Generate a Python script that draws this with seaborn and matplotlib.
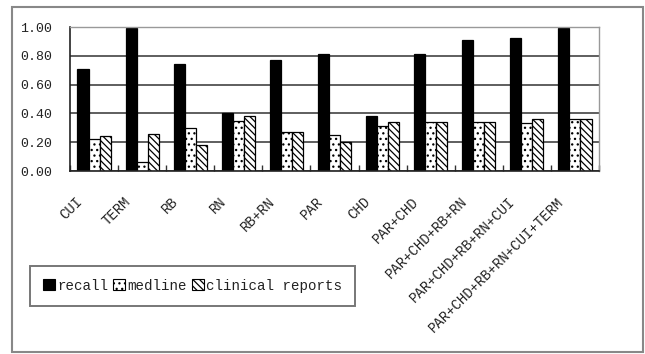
import matplotlib
matplotlib.use("Agg")
import matplotlib.pyplot as plt
import matplotlib.transforms as mtransforms
from matplotlib.patches import Rectangle, Patch
import numpy as np
import pandas as pd
import seaborn as sns

categories = ["CUI", "TERM", "RB", "RN", "RB+RN", "PAR", "CHD", "PAR+CHD",
              "PAR+CHD+RB+RN", "PAR+CHD+RB+RN+CUI", "PAR+CHD+RB+RN+CUI+TERM"]
recall = [0.71, 0.99, 0.74, 0.40, 0.77, 0.81, 0.38, 0.81, 0.91, 0.925, 0.99]
medline = [0.22, 0.065, 0.30, 0.35, 0.27, 0.25, 0.31, 0.34, 0.34, 0.335, 0.36]
clinical = [0.24, 0.26, 0.18, 0.38, 0.27, 0.20, 0.34, 0.34, 0.34, 0.36, 0.36]
series_names = ["recall", "medline", "clinical reports"]
y_ticks = [0.0, 0.2, 0.4, 0.6, 0.8, 1.0]

df = pd.DataFrame({
    "category": categories * 3,
    "value": recall + medline + clinical,
    "series": [series_names[0]] * len(categories)
              + [series_names[1]] * len(categories)
              + [series_names[2]] * len(categories),
})

sns.set_style("white")
plt.rcParams["font.family"] = ["Liberation Mono", "DejaVu Sans"]
plt.rcParams["hatch.linewidth"] = 0.9

W, H = 645, 354
fig = plt.figure(figsize=(W / 100, H / 100), dpi=100)
ax = fig.add_axes([70 / W, (H - 171) / H, (599 - 70) / W, (171 - 27) / H])

fills = {"recall": "black", "medline": "white", "clinical reports": "white"}
hatches = {"recall": None, "medline": "...", "clinical reports": "\\\\\\\\\\"}

sns.barplot(data=df, x="category", y="value", hue="series", order=categories,
            hue_order=series_names, palette=fills, width=0.69, gap=0,
            edgecolor="black", linewidth=0.9, legend=False, ax=ax)

for cont, name in zip(ax.containers, series_names):
    for bar in cont:
        bar.set_hatch(hatches[name])
        bar.set_edgecolor("black")

ax.set_ylim(0, 1.0)
ax.set_xlim(-0.5, len(categories) - 0.5)
ax.set_yticks(y_ticks)
ax.set_yticklabels([f"{v:.2f}" for v in y_ticks], fontsize=9.5, color="#222222")
ax.set_xlabel("")
ax.set_ylabel("")

ax.yaxis.grid(True, color="#333333", linewidth=1.1)
ax.set_axisbelow(True)

# category separators as small inward ticks
ax.set_xticks(np.arange(-0.5, len(categories) + 0.5, 1.0), minor=True)
ax.tick_params(axis="x", which="minor", direction="in", length=4, width=1,
               color="#333333", bottom=True)
ax.tick_params(axis="x", which="major", length=0, pad=17)
ax.tick_params(axis="y", length=0, pad=13)

ax.set_xticks(range(len(categories)))
ax.set_xticklabels(categories, rotation=45, ha="right", fontsize=10,
                   color="#222222")
shift = mtransforms.ScaledTranslation(-0.09, 0, fig.dpi_scale_trans)
for lbl in ax.get_xticklabels():
    lbl.set_transform(lbl.get_transform() + shift)

for side in ["left", "bottom"]:
    ax.spines[side].set_color("#222222")
    ax.spines[side].set_linewidth(1.2)
for side in ["top", "right"]:
    ax.spines[side].set_color("#999999")
    ax.spines[side].set_linewidth(1.0)

handles = [Patch(facecolor=fills[n], edgecolor="black", hatch=hatches[n],
                 linewidth=0.8) for n in series_names]
leg = fig.legend(handles, series_names, loc="upper left",
                 bbox_to_anchor=(30 / W, (H - 266) / H), ncol=3,
                 fontsize=10.2, frameon=True, fancybox=False,
                 handlelength=0.85, handleheight=0.85, handletextpad=0.2,
                 columnspacing=0.3, borderpad=0.9, borderaxespad=0)
leg.get_frame().set_edgecolor("#555555")
leg.get_frame().set_linewidth(1.4)
for t in leg.get_texts():
    t.set_color("#222222")

fig.patches.append(Rectangle((12 / W, 2 / H), 631 / W, 345 / H,
                             transform=fig.transFigure, fill=False,
                             edgecolor="#888888", linewidth=1.5))

fig.savefig("out.png", dpi=100)
